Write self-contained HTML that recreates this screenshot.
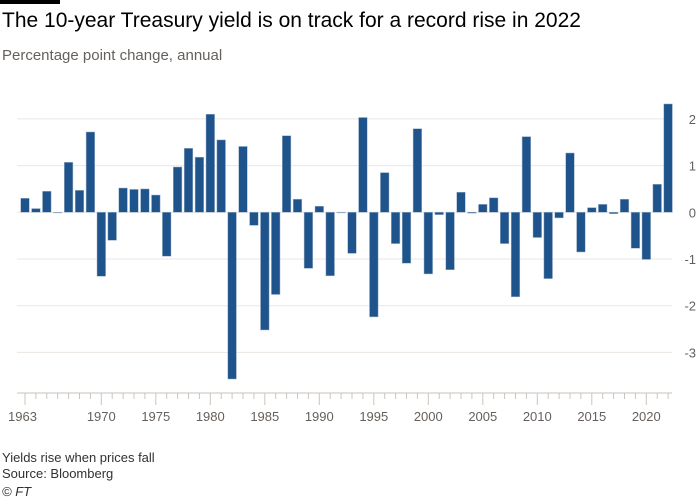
<!DOCTYPE html>
<html><head><meta charset="utf-8"><style>
body{margin:0;background:#fff;font-family:"Liberation Sans",sans-serif;}
#wrap{position:relative;width:700px;height:500px;overflow:hidden;}
.t{position:absolute;white-space:nowrap;}
</style></head><body>
<div id="wrap">
<div style="position:absolute;left:0;top:0;width:60px;height:4px;background:#000"></div>
<div class="t" style="left:2px;top:9px;font-size:21px;color:#000">The 10-year Treasury yield is on track for a record rise in 2022</div>
<div class="t" style="left:2px;top:47px;font-size:15px;color:#66605c">Percentage point change, annual</div>
<svg id="c" width="700" height="500" style="position:absolute;left:0;top:0"></svg>
<div class="t" style="left:2px;top:450px;font-size:13px;color:#33302e">Yields rise when prices fall</div>
<div class="t" style="left:2px;top:466px;font-size:13px;color:#33302e">Source: Bloomberg</div>
<div class="t" style="left:2px;top:484px;font-size:13px;font-style:italic;color:#33302e">© FT</div>
</div>
<script>
const years=[];for(let y=1963;y<=2022;y++)years.push(y);
const values=[0.30,0.08,0.45,0.0,1.07,0.47,1.72,-1.37,-0.60,0.52,0.49,0.50,0.37,-0.94,0.97,1.37,1.18,2.10,1.55,-3.57,1.41,-0.28,-2.52,-1.76,1.64,0.28,-1.20,0.13,-1.36,0.0,-0.88,2.03,-2.24,0.85,-0.67,-1.09,1.79,-1.32,-0.05,-1.23,0.43,-0.02,0.17,0.31,-0.67,-1.81,1.62,-0.54,-1.42,-0.12,1.27,-0.85,0.10,0.17,-0.03,0.28,-0.77,-1.01,0.60,2.32];
const yTicks=[2,1,0,-1,-2,-3];
const xLabels=[1963,1970,1975,1980,1985,1990,1995,2000,2005,2010,2015,2020];
const NS="http://www.w3.org/2000/svg";
const svg=document.getElementById('c');
const xs=y=>25+(y-1963)*10.9;
const ys=v=>212.3-v*46.7;
function mk(t,a){const e=document.createElementNS(NS,t);for(const k in a)e.setAttribute(k,a[k]);svg.appendChild(e);return e;}
yTicks.forEach(v=>{
 const l=mk('line',{x1:17,x2:672,y1:ys(v),y2:ys(v),stroke:'#ebe6e1','stroke-width':1});
 
 
 const t=mk('text',{x:696,y:ys(v)+5,'text-anchor':'end','font-size':13,fill:'#66605c','font-family':'Liberation Sans'});
 t.textContent=v<0?'-'+Math.abs(v):v;
 
 
});
values.forEach((v,i)=>{
 const y=years[i];
 const r=mk('rect',{x:xs(y)-4.3,y:Math.min(ys(v),ys(0)),width:8.6,height:Math.max(Math.abs(ys(v)-ys(0)),0.6),fill:'#1f538b',stroke:'#9db4cc','stroke-width':0.5});
 
 
});
const ax=mk('line',{x1:17,x2:672,y1:393,y2:393,stroke:'#ddd6d0','stroke-width':1.5});


years.forEach(y=>{
 const big=xLabels.includes(y);
 const tk=mk('line',{x1:xs(y),x2:xs(y),y1:393,y2:big?405:399,stroke:'#ccc4bd','stroke-width':1});
 
 
});
xLabels.forEach(y=>{
 const t=mk('text',{x:xs(y),y:421,'text-anchor':y===1963?'start':'middle','font-size':13,fill:'#66605c','font-family':'Liberation Sans'});
 if(y===1963)t.setAttribute('x',8);
 t.textContent=y;
 
 
});
</script>
</body></html>
